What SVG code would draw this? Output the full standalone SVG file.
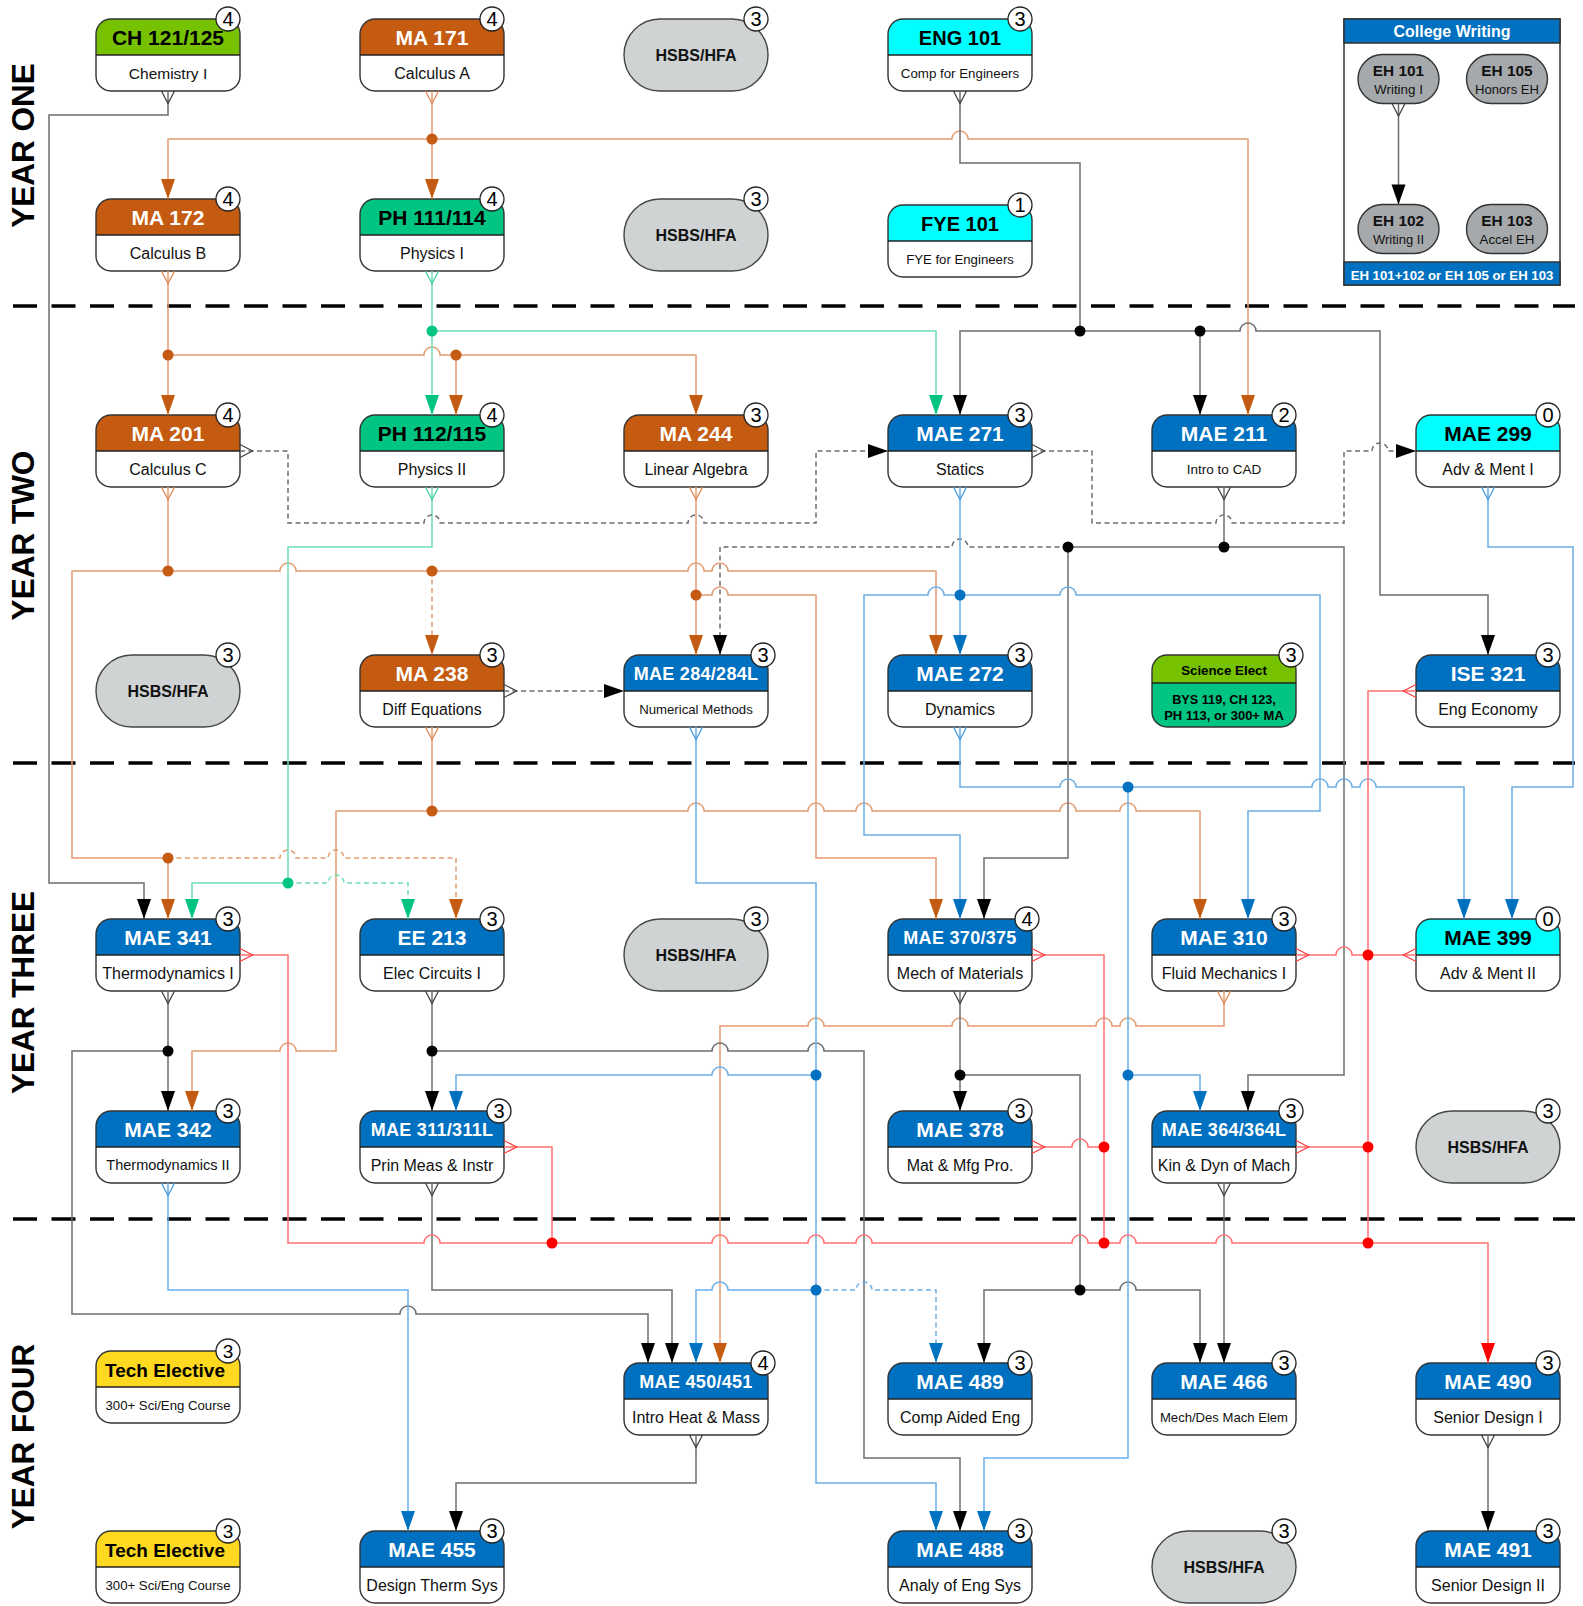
<svg xmlns="http://www.w3.org/2000/svg" width="1583" height="1606" viewBox="0 0 1583 1606">
<defs>
<style>
text{font-family:"Liberation Sans",Arial,sans-serif}
.fr{fill:#fff;stroke:none}
.ol{fill:none;stroke:#333;stroke-width:1.4}
.sp{fill:none;stroke:#222;stroke-width:1.6}
.h{font-weight:bold;font-size:21px;text-anchor:middle}
.hs{font-weight:bold;font-size:18px;text-anchor:middle;letter-spacing:0.3px}
.w{fill:#fff}
.k{fill:#000}
.b{font-size:16px;text-anchor:middle;fill:#111}
.bd{fill:#fff;stroke:#222;stroke-width:1.3}
.bn{font-size:20px;text-anchor:middle;fill:#000}
.gen{fill:#D0D3D4;stroke:#444;stroke-width:1.4}
.gt{font-weight:bold;font-size:16px;text-anchor:middle;fill:#111}
.div{fill:none;stroke:#000;stroke-width:3.3;stroke-dasharray:24 14.5}
.c{fill:none;stroke-width:1.5}
.or{stroke:#E39B71}.gr{stroke:#6EDDB3}.bk{stroke:#6E6E6E}.bl{stroke:#6AAEE6}.rd{stroke:#FF7070}
.ds{stroke-dasharray:5 3.5}
.or.s{marker-start:url(#c-or)}.or.e{marker-end:url(#a-or)}
.gr.s{marker-start:url(#c-gr)}.gr.e{marker-end:url(#a-gr)}
.bk.s{marker-start:url(#c-bk)}.bk.e{marker-end:url(#a-bk)}
.bl.s{marker-start:url(#c-bl)}.bl.e{marker-end:url(#a-bl)}
.rd.s{marker-start:url(#c-rd)}.rd.e{marker-end:url(#a-rd)}
.dor{fill:#C55A11}.dgr{fill:#00C481}.dbk{fill:#000}.dbl{fill:#0070C0}.drd{fill:#FF0000}
.eh{fill:#A6A9AB;stroke:#333;stroke-width:1.4}
.ehb{font-weight:bold;font-size:15.4px;text-anchor:middle;fill:#111}
.ehs{font-size:13.4px;text-anchor:middle;fill:#111}
.yr{font-weight:bold;font-size:31.5px;text-anchor:middle;fill:#000}
</style>
<rect id="box" width="144" height="72" rx="15"/>
<path id="hdr" d="M0,36V15A15,15 0 0 1 15,0H129A15,15 0 0 1 144,15V36Z"/>
<path id="hdr2" d="M0,28V15A15,15 0 0 1 15,0H129A15,15 0 0 1 144,15V28Z"/>
<rect id="pill" width="144" height="72" rx="36"/>
<marker id="a-or" viewBox="-21 -8 22 16" refX="0" refY="0" markerWidth="22" markerHeight="16" markerUnits="userSpaceOnUse" orient="auto"><path d="M-20,-7L0,0L-20,7Z" fill="#C55A11"/></marker>
<marker id="a-gr" viewBox="-21 -8 22 16" refX="0" refY="0" markerWidth="22" markerHeight="16" markerUnits="userSpaceOnUse" orient="auto"><path d="M-20,-7L0,0L-20,7Z" fill="#00C481"/></marker>
<marker id="a-bk" viewBox="-21 -8 22 16" refX="0" refY="0" markerWidth="22" markerHeight="16" markerUnits="userSpaceOnUse" orient="auto"><path d="M-20,-7L0,0L-20,7Z" fill="#000"/></marker>
<marker id="a-bl" viewBox="-21 -8 22 16" refX="0" refY="0" markerWidth="22" markerHeight="16" markerUnits="userSpaceOnUse" orient="auto"><path d="M-20,-7L0,0L-20,7Z" fill="#0070C0"/></marker>
<marker id="a-rd" viewBox="-21 -8 22 16" refX="0" refY="0" markerWidth="22" markerHeight="16" markerUnits="userSpaceOnUse" orient="auto"><path d="M-20,-7L0,0L-20,7Z" fill="#FF0000"/></marker>
<marker id="c-or" viewBox="-2 -8 16 16" refX="0" refY="0" markerWidth="16" markerHeight="16" markerUnits="userSpaceOnUse" orient="auto"><path d="M0,-6.5L12.5,0L0,6.5" fill="none" stroke="#E08A5A" stroke-width="1.3"/></marker>
<marker id="c-gr" viewBox="-2 -8 16 16" refX="0" refY="0" markerWidth="16" markerHeight="16" markerUnits="userSpaceOnUse" orient="auto"><path d="M0,-6.5L12.5,0L0,6.5" fill="none" stroke="#3FD49C" stroke-width="1.3"/></marker>
<marker id="c-bk" viewBox="-2 -8 16 16" refX="0" refY="0" markerWidth="16" markerHeight="16" markerUnits="userSpaceOnUse" orient="auto"><path d="M0,-6.5L12.5,0L0,6.5" fill="none" stroke="#444" stroke-width="1.3"/></marker>
<marker id="c-bl" viewBox="-2 -8 16 16" refX="0" refY="0" markerWidth="16" markerHeight="16" markerUnits="userSpaceOnUse" orient="auto"><path d="M0,-6.5L12.5,0L0,6.5" fill="none" stroke="#4C9BDD" stroke-width="1.3"/></marker>
<marker id="c-rd" viewBox="-2 -8 16 16" refX="0" refY="0" markerWidth="16" markerHeight="16" markerUnits="userSpaceOnUse" orient="auto"><path d="M0,-6.5L12.5,0L0,6.5" fill="none" stroke="#FF4040" stroke-width="1.3"/></marker>
</defs>
<rect width="1583" height="1606" fill="#fff"/>

<g id="year-labels">
<text class="yr" transform="translate(33.5,145.5) rotate(-90)">YEAR ONE</text>
<text class="yr" transform="translate(33.5,535.5) rotate(-90)">YEAR TWO</text>
<text class="yr" transform="translate(33.5,992.5) rotate(-90)">YEAR THREE</text>
<text class="yr" transform="translate(33.5,1436.5) rotate(-90)">YEAR FOUR</text>
</g>
<path class="div" d="M13,306H1575M13,763H1575M13,1219H1575"/>

<g id="nodes">
<g id="ch121" transform="translate(96,19)"><use href="#box" class="fr"/><use href="#hdr" fill="#76C200"/><use href="#box" class="ol"/><path d="M0,36H144" class="sp"/><text x="72" y="25.5" class="h k">CH 121/125</text><text x="72" y="59.5" class="b" style="font-size:15.5px">Chemistry I</text><circle cx="132" cy="0" r="12" class="bd"/><text x="132" y="7" class="bn">4</text></g>
<g id="ma171" transform="translate(360,19)"><use href="#box" class="fr"/><use href="#hdr" fill="#C55A11"/><use href="#box" class="ol"/><path d="M0,36H144" class="sp"/><text x="72" y="25.5" class="h w">MA 171</text><text x="72" y="59.5" class="b">Calculus A</text><circle cx="132" cy="0" r="12" class="bd"/><text x="132" y="7" class="bn">4</text></g>
<g id="hsbs1" transform="translate(624,19)"><use href="#pill" class="gen"/><text x="72" y="41.8" class="gt">HSBS/HFA</text><circle cx="132" cy="0" r="12" class="bd"/><text x="132" y="7" class="bn">3</text></g>
<g id="eng101" transform="translate(888,19)"><use href="#box" class="fr"/><use href="#hdr" fill="#00FFFF"/><use href="#box" class="ol"/><path d="M0,36H144" class="sp"/><text x="72" y="25.5" class="h k" style="font-size:20px">ENG 101</text><text x="72" y="59" class="b" style="font-size:13.3px">Comp for Engineers</text><circle cx="132" cy="0" r="12" class="bd"/><text x="132" y="7" class="bn">3</text></g>

<g id="ma172" transform="translate(96,199)"><use href="#box" class="fr"/><use href="#hdr" fill="#C55A11"/><use href="#box" class="ol"/><path d="M0,36H144" class="sp"/><text x="72" y="25.5" class="h w">MA 172</text><text x="72" y="59.5" class="b">Calculus B</text><circle cx="132" cy="0" r="12" class="bd"/><text x="132" y="7" class="bn">4</text></g>
<g id="ph111" transform="translate(360,199)"><use href="#box" class="fr"/><use href="#hdr" fill="#00C481"/><use href="#box" class="ol"/><path d="M0,36H144" class="sp"/><text x="72" y="25.5" class="h k">PH 111/114</text><text x="72" y="59.5" class="b">Physics I</text><circle cx="132" cy="0" r="12" class="bd"/><text x="132" y="7" class="bn">4</text></g>
<g id="hsbs2" transform="translate(624,199)"><use href="#pill" class="gen"/><text x="72" y="41.8" class="gt">HSBS/HFA</text><circle cx="132" cy="0" r="12" class="bd"/><text x="132" y="7" class="bn">3</text></g>
<g id="fye101" transform="translate(888,205)"><use href="#box" class="fr"/><use href="#hdr" fill="#00FFFF"/><use href="#box" class="ol"/><path d="M0,36H144" class="sp"/><text x="72" y="25.5" class="h k" style="font-size:20px">FYE 101</text><text x="72" y="59" class="b" style="font-size:13.2px">FYE for Engineers</text><circle cx="132" cy="0" r="12" class="bd"/><text x="132" y="7" class="bn">1</text></g>

<g id="ma201" transform="translate(96,415)"><use href="#box" class="fr"/><use href="#hdr" fill="#C55A11"/><use href="#box" class="ol"/><path d="M0,36H144" class="sp"/><text x="72" y="25.5" class="h w">MA 201</text><text x="72" y="59.5" class="b">Calculus C</text><circle cx="132" cy="0" r="12" class="bd"/><text x="132" y="7" class="bn">4</text></g>
<g id="ph112" transform="translate(360,415)"><use href="#box" class="fr"/><use href="#hdr" fill="#00C481"/><use href="#box" class="ol"/><path d="M0,36H144" class="sp"/><text x="72" y="25.5" class="h k">PH 112/115</text><text x="72" y="59.5" class="b">Physics II</text><circle cx="132" cy="0" r="12" class="bd"/><text x="132" y="7" class="bn">4</text></g>
<g id="ma244" transform="translate(624,415)"><use href="#box" class="fr"/><use href="#hdr" fill="#C55A11"/><use href="#box" class="ol"/><path d="M0,36H144" class="sp"/><text x="72" y="25.5" class="h w">MA 244</text><text x="72" y="59.5" class="b">Linear Algebra</text><circle cx="132" cy="0" r="12" class="bd"/><text x="132" y="7" class="bn">3</text></g>
<g id="mae271" transform="translate(888,415)"><use href="#box" class="fr"/><use href="#hdr" fill="#0070C0"/><use href="#box" class="ol"/><path d="M0,36H144" class="sp"/><text x="72" y="25.5" class="h w">MAE 271</text><text x="72" y="59.5" class="b">Statics</text><circle cx="132" cy="0" r="12" class="bd"/><text x="132" y="7" class="bn">3</text></g>
<g id="mae211" transform="translate(1152,415)"><use href="#box" class="fr"/><use href="#hdr" fill="#0070C0"/><use href="#box" class="ol"/><path d="M0,36H144" class="sp"/><text x="72" y="25.5" class="h w">MAE 211</text><text x="72" y="59" class="b" style="font-size:13.5px">Intro to CAD</text><circle cx="132" cy="0" r="12" class="bd"/><text x="132" y="7" class="bn">2</text></g>
<g id="mae299" transform="translate(1416,415)"><use href="#box" class="fr"/><use href="#hdr" fill="#00FFFF"/><use href="#box" class="ol"/><path d="M0,36H144" class="sp"/><text x="72" y="25.5" class="h k">MAE 299</text><text x="72" y="59.5" class="b">Adv &amp; Ment I</text><circle cx="132" cy="0" r="12" class="bd"/><text x="132" y="7" class="bn">0</text></g>

<g id="hsbs3" transform="translate(96,655)"><use href="#pill" class="gen"/><text x="72" y="41.8" class="gt">HSBS/HFA</text><circle cx="132" cy="0" r="12" class="bd"/><text x="132" y="7" class="bn">3</text></g>
<g id="ma238" transform="translate(360,655)"><use href="#box" class="fr"/><use href="#hdr" fill="#C55A11"/><use href="#box" class="ol"/><path d="M0,36H144" class="sp"/><text x="72" y="25.5" class="h w">MA 238</text><text x="72" y="59.5" class="b">Diff Equations</text><circle cx="132" cy="0" r="12" class="bd"/><text x="132" y="7" class="bn">3</text></g>
<g id="mae284" transform="translate(624,655)"><use href="#box" class="fr"/><use href="#hdr" fill="#0070C0"/><use href="#box" class="ol"/><path d="M0,36H144" class="sp"/><text x="72" y="24.5" class="hs w">MAE 284/284L</text><text x="72" y="59" class="b" style="font-size:13.2px">Numerical Methods</text><circle cx="139" cy="0" r="12" class="bd"/><text x="139" y="7" class="bn">3</text></g>
<g id="mae272" transform="translate(888,655)"><use href="#box" class="fr"/><use href="#hdr" fill="#0070C0"/><use href="#box" class="ol"/><path d="M0,36H144" class="sp"/><text x="72" y="25.5" class="h w">MAE 272</text><text x="72" y="59.5" class="b">Dynamics</text><circle cx="132" cy="0" r="12" class="bd"/><text x="132" y="7" class="bn">3</text></g>
<g id="sci-elect" transform="translate(1152,655)"><use href="#box" fill="#00C481"/><use href="#hdr2" fill="#76C200"/><use href="#box" class="ol"/><path d="M0,28H144" class="sp"/><text x="72" y="19.8" style="font-weight:bold;font-size:13.3px;text-anchor:middle" fill="#000">Science Elect</text><text x="72" y="48.7" style="font-weight:bold;font-size:12.7px;text-anchor:middle" fill="#000">BYS 119, CH 123,</text><text x="72" y="64.7" style="font-weight:bold;font-size:13px;text-anchor:middle" fill="#000">PH 113, or 300+ MA</text><circle cx="139" cy="0" r="12" class="bd"/><text x="139" y="7" class="bn">3</text></g>
<g id="ise321" transform="translate(1416,655)"><use href="#box" class="fr"/><use href="#hdr" fill="#0070C0"/><use href="#box" class="ol"/><path d="M0,36H144" class="sp"/><text x="72" y="25.5" class="h w">ISE 321</text><text x="72" y="59.5" class="b">Eng Economy</text><circle cx="132" cy="0" r="12" class="bd"/><text x="132" y="7" class="bn">3</text></g>

<g id="mae341" transform="translate(96,919)"><use href="#box" class="fr"/><use href="#hdr" fill="#0070C0"/><use href="#box" class="ol"/><path d="M0,36H144" class="sp"/><text x="72" y="25.5" class="h w">MAE 341</text><text x="72" y="59.5" class="b">Thermodynamics I</text><circle cx="132" cy="0" r="12" class="bd"/><text x="132" y="7" class="bn">3</text></g>
<g id="ee213" transform="translate(360,919)"><use href="#box" class="fr"/><use href="#hdr" fill="#0070C0"/><use href="#box" class="ol"/><path d="M0,36H144" class="sp"/><text x="72" y="25.5" class="h w">EE 213</text><text x="72" y="59.5" class="b">Elec Circuits I</text><circle cx="132" cy="0" r="12" class="bd"/><text x="132" y="7" class="bn">3</text></g>
<g id="hsbs4" transform="translate(624,919)"><use href="#pill" class="gen"/><text x="72" y="41.8" class="gt">HSBS/HFA</text><circle cx="132" cy="0" r="12" class="bd"/><text x="132" y="7" class="bn">3</text></g>
<g id="mae370" transform="translate(888,919)"><use href="#box" class="fr"/><use href="#hdr" fill="#0070C0"/><use href="#box" class="ol"/><path d="M0,36H144" class="sp"/><text x="72" y="24.5" class="hs w">MAE 370/375</text><text x="72" y="59.5" class="b">Mech of Materials</text><circle cx="139" cy="0" r="12" class="bd"/><text x="139" y="7" class="bn">4</text></g>
<g id="mae310" transform="translate(1152,919)"><use href="#box" class="fr"/><use href="#hdr" fill="#0070C0"/><use href="#box" class="ol"/><path d="M0,36H144" class="sp"/><text x="72" y="25.5" class="h w">MAE 310</text><text x="72" y="59.5" class="b">Fluid Mechanics I</text><circle cx="132" cy="0" r="12" class="bd"/><text x="132" y="7" class="bn">3</text></g>
<g id="mae399" transform="translate(1416,919)"><use href="#box" class="fr"/><use href="#hdr" fill="#00FFFF"/><use href="#box" class="ol"/><path d="M0,36H144" class="sp"/><text x="72" y="25.5" class="h k">MAE 399</text><text x="72" y="59.5" class="b">Adv &amp; Ment II</text><circle cx="132" cy="0" r="12" class="bd"/><text x="132" y="7" class="bn">0</text></g>

<g id="mae342" transform="translate(96,1111)"><use href="#box" class="fr"/><use href="#hdr" fill="#0070C0"/><use href="#box" class="ol"/><path d="M0,36H144" class="sp"/><text x="72" y="25.5" class="h w">MAE 342</text><text x="72" y="59" class="b" style="font-size:14.5px">Thermodynamics II</text><circle cx="132" cy="0" r="12" class="bd"/><text x="132" y="7" class="bn">3</text></g>
<g id="mae311" transform="translate(360,1111)"><use href="#box" class="fr"/><use href="#hdr" fill="#0070C0"/><use href="#box" class="ol"/><path d="M0,36H144" class="sp"/><text x="72" y="24.5" class="hs w">MAE 311/311L</text><text x="72" y="59.5" class="b">Prin Meas &amp; Instr</text><circle cx="139" cy="0" r="12" class="bd"/><text x="139" y="7" class="bn">3</text></g>
<g id="mae378" transform="translate(888,1111)"><use href="#box" class="fr"/><use href="#hdr" fill="#0070C0"/><use href="#box" class="ol"/><path d="M0,36H144" class="sp"/><text x="72" y="25.5" class="h w">MAE 378</text><text x="72" y="59.5" class="b">Mat &amp; Mfg Pro.</text><circle cx="132" cy="0" r="12" class="bd"/><text x="132" y="7" class="bn">3</text></g>
<g id="mae364" transform="translate(1152,1111)"><use href="#box" class="fr"/><use href="#hdr" fill="#0070C0"/><use href="#box" class="ol"/><path d="M0,36H144" class="sp"/><text x="72" y="24.5" class="hs w">MAE 364/364L</text><text x="72" y="59.5" class="b">Kin &amp; Dyn of Mach</text><circle cx="139" cy="0" r="12" class="bd"/><text x="139" y="7" class="bn">3</text></g>
<g id="hsbs5" transform="translate(1416,1111)"><use href="#pill" class="gen"/><text x="72" y="41.8" class="gt">HSBS/HFA</text><circle cx="132" cy="0" r="12" class="bd"/><text x="132" y="7" class="bn">3</text></g>

<g id="tech1" transform="translate(96,1351)"><use href="#box" class="fr"/><use href="#hdr" fill="#FFD820"/><use href="#box" class="ol"/><path d="M0,36H144" class="sp"/><text x="69" y="26" class="h k" style="font-size:19px">Tech Elective</text><text x="72" y="59" class="b" style="font-size:13px" textLength="125" lengthAdjust="spacingAndGlyphs">300+ Sci/Eng Course</text><circle cx="132" cy="0" r="12" class="bd"/><text x="132" y="6.5" class="bn" style="font-size:19px">3</text></g>
<g id="mae450" transform="translate(624,1363)"><use href="#box" class="fr"/><use href="#hdr" fill="#0070C0"/><use href="#box" class="ol"/><path d="M0,36H144" class="sp"/><text x="72" y="24.5" class="hs w">MAE 450/451</text><text x="72" y="59.5" class="b">Intro Heat &amp; Mass</text><circle cx="139" cy="0" r="12" class="bd"/><text x="139" y="7" class="bn">4</text></g>
<g id="mae489" transform="translate(888,1363)"><use href="#box" class="fr"/><use href="#hdr" fill="#0070C0"/><use href="#box" class="ol"/><path d="M0,36H144" class="sp"/><text x="72" y="25.5" class="h w">MAE 489</text><text x="72" y="59.5" class="b">Comp Aided Eng</text><circle cx="132" cy="0" r="12" class="bd"/><text x="132" y="7" class="bn">3</text></g>
<g id="mae466" transform="translate(1152,1363)"><use href="#box" class="fr"/><use href="#hdr" fill="#0070C0"/><use href="#box" class="ol"/><path d="M0,36H144" class="sp"/><text x="72" y="25.5" class="h w">MAE 466</text><text x="72" y="59" class="b" style="font-size:13.1px">Mech/Des Mach Elem</text><circle cx="132" cy="0" r="12" class="bd"/><text x="132" y="7" class="bn">3</text></g>
<g id="mae490" transform="translate(1416,1363)"><use href="#box" class="fr"/><use href="#hdr" fill="#0070C0"/><use href="#box" class="ol"/><path d="M0,36H144" class="sp"/><text x="72" y="25.5" class="h w">MAE 490</text><text x="72" y="59.5" class="b">Senior Design I</text><circle cx="132" cy="0" r="12" class="bd"/><text x="132" y="7" class="bn">3</text></g>

<g id="tech2" transform="translate(96,1531)"><use href="#box" class="fr"/><use href="#hdr" fill="#FFD820"/><use href="#box" class="ol"/><path d="M0,36H144" class="sp"/><text x="69" y="26" class="h k" style="font-size:19px">Tech Elective</text><text x="72" y="59" class="b" style="font-size:13px" textLength="125" lengthAdjust="spacingAndGlyphs">300+ Sci/Eng Course</text><circle cx="132" cy="0" r="12" class="bd"/><text x="132" y="6.5" class="bn" style="font-size:19px">3</text></g>
<g id="mae455" transform="translate(360,1531)"><use href="#box" class="fr"/><use href="#hdr" fill="#0070C0"/><use href="#box" class="ol"/><path d="M0,36H144" class="sp"/><text x="72" y="25.5" class="h w">MAE 455</text><text x="72" y="59.5" class="b">Design Therm Sys</text><circle cx="132" cy="0" r="12" class="bd"/><text x="132" y="7" class="bn">3</text></g>
<g id="mae488" transform="translate(888,1531)"><use href="#box" class="fr"/><use href="#hdr" fill="#0070C0"/><use href="#box" class="ol"/><path d="M0,36H144" class="sp"/><text x="72" y="25.5" class="h w">MAE 488</text><text x="72" y="59.5" class="b">Analy of Eng Sys</text><circle cx="132" cy="0" r="12" class="bd"/><text x="132" y="7" class="bn">3</text></g>
<g id="hsbs6" transform="translate(1152,1531)"><use href="#pill" class="gen"/><text x="72" y="41.8" class="gt">HSBS/HFA</text><circle cx="132" cy="0" r="12" class="bd"/><text x="132" y="7" class="bn">3</text></g>
<g id="mae491" transform="translate(1416,1531)"><use href="#box" class="fr"/><use href="#hdr" fill="#0070C0"/><use href="#box" class="ol"/><path d="M0,36H144" class="sp"/><text x="72" y="25.5" class="h w">MAE 491</text><text x="72" y="59.5" class="b">Senior Design II</text><circle cx="132" cy="0" r="12" class="bd"/><text x="132" y="7" class="bn">3</text></g>

<g id="college-writing">
<rect x="1344" y="19" width="216" height="266" fill="#fff" stroke="#333" stroke-width="1.5"/>
<rect x="1344" y="19" width="216" height="24" fill="#0070C0" stroke="#333" stroke-width="1.5"/>
<rect x="1344" y="262" width="216" height="23" fill="#0070C0" stroke="#333" stroke-width="1.5"/>
<text x="1452" y="36.5" style="font-weight:bold;font-size:16px;text-anchor:middle" fill="#fff">College Writing</text>
<text x="1452" y="279.5" style="font-weight:bold;font-size:13.2px;text-anchor:middle" fill="#fff">EH 101+102 or EH 105 or EH 103</text>
</g>
<g id="eh101"><rect x="1358" y="54.5" width="81" height="49" rx="24.5" class="eh"/><text x="1398.5" y="75.5" class="ehb">EH 101</text><text x="1398.5" y="94" class="ehs">Writing I</text></g>
<g id="eh105"><rect x="1466.5" y="54.5" width="81" height="49" rx="24.5" class="eh"/><text x="1507" y="75.5" class="ehb">EH 105</text><text x="1507" y="94" class="ehs" style="font-size:13.1px">Honors EH</text></g>
<g id="eh102"><rect x="1358" y="204.5" width="81" height="49" rx="24.5" class="eh"/><text x="1398.5" y="225.5" class="ehb">EH 102</text><text x="1398.5" y="244" class="ehs" style="font-size:13px">Writing II</text></g>
<g id="eh103"><rect x="1466.5" y="204.5" width="81" height="49" rx="24.5" class="eh"/><text x="1507" y="225.5" class="ehb">EH 103</text><text x="1507" y="244" class="ehs">Accel EH</text></g>
</g>

<g id="connectors">
<path class="c bk s e" d="M1398.5,103.5V204.5"/>
<!-- orange -->
<path class="c or s" d="M432,91V139"/>
<path class="c or e" d="M432,139V199"/>
<path class="c or e" d="M432,139H168V199"/>
<path class="c or e" d="M432,139H952a8,8 0 0 1 16,0H1248V415"/>
<path class="c or s" d="M168,271V355"/>
<path class="c or e" d="M168,355V415"/>
<path class="c or e" d="M168,355H424a8,8 0 0 1 16,0H696V415"/>
<path class="c or e" d="M456,355V415"/>
<path class="c or s" d="M168,487V571"/>
<path class="c or e" d="M168,571H72V858H168V919"/>
<path class="c or e ds" d="M168,858H280a8,8 0 0 1 16,0H328a8,8 0 0 1 16,0H456V919"/>
<path class="c or e" d="M168,571H280a8,8 0 0 1 16,0H688a8,8 0 0 1 16,0H712a8,8 0 0 1 16,0H936V655"/>
<path class="c or e ds" d="M432,571V655"/>
<path class="c or s e" d="M696,487V655"/>
<path class="c or e" d="M696,595H712a8,8 0 0 1 16,0H816V858H936V919"/>
<path class="c or s" d="M432,727V811"/>
<path class="c or e" d="M432,811H336V1051H296a8,8 0 0 0 -16,0H192V1111"/>
<path class="c or e" d="M432,811H688a8,8 0 0 1 16,0H808a8,8 0 0 1 16,0H856a8,8 0 0 1 16,0H1060a8,8 0 0 1 16,0H1120a8,8 0 0 1 16,0H1200V919"/>
<path class="c or s e" d="M1224,991V1026H1136a8,8 0 0 0 -16,0H1112a8,8 0 0 0 -16,0H968a8,8 0 0 0 -16,0H824a8,8 0 0 0 -16,0H720V1363"/>
<!-- green -->
<path class="c gr s e" d="M432,271V415"/>
<path class="c gr e" d="M432,331H936V415"/>
<path class="c gr s" d="M432,487V547H288V883"/>
<path class="c gr e" d="M288,883H192V919"/>
<path class="c gr e ds" d="M288,883H328a8,8 0 0 1 16,0H408V919"/>
<!-- black -->
<path class="c bk s e" d="M168,91V115H49V883H144V919"/>
<path class="c bk s" d="M960,91V163H1080V331"/>
<path class="c bk e" d="M1080,331H960V415"/>
<path class="c bk e" d="M1080,331H1240a8,8 0 0 1 16,0H1380V595H1488V655"/>
<path class="c bk e" d="M1200,331V415"/>
<path class="c bk s" d="M1224,487V547"/>
<path class="c bk e" d="M1224,547H1068V858H984V919"/>
<path class="c bk e" d="M1224,547H1344V1075H1248V1111"/>
<path class="c bk e ds" d="M1068,547H968a8,8 0 0 0 -16,0H720V655"/>
<path class="c bk s e" d="M168,991V1111"/>
<path class="c bk e" d="M168,1051H72V1314H400a8,8 0 0 1 16,0H648V1363"/>
<path class="c bk s e" d="M432,991V1111"/>
<path class="c bk e" d="M432,1051H712a8,8 0 0 1 16,0H808a8,8 0 0 1 16,0H864V1458H960V1531"/>
<path class="c bk s e" d="M432,1183V1290H672V1363"/>
<path class="c bk s e" d="M960,991V1111"/>
<path class="c bk e" d="M960,1075H1080V1290H984V1363"/>
<path class="c bk e" d="M1080,1290H1120a8,8 0 0 1 16,0H1200V1363"/>
<path class="c bk s e" d="M1224,1183V1363"/>
<path class="c bk s e" d="M696,1435V1483H456V1531"/>
<path class="c bk s e" d="M1488,1435V1531"/>
<!-- dashed gray -->
<path class="c bk s e ds" d="M240,451H288V523H424a8,8 0 0 1 16,0H688a8,8 0 0 1 16,0H816V451H888"/>
<path class="c bk s e ds" d="M504,691H624"/>
<path class="c bk s e ds" d="M1032,451H1092V523H1216a8,8 0 0 1 16,0H1344V451H1372a8,8 0 0 1 16,0H1416"/>
<!-- blue -->
<path class="c bl s e" d="M960,487V655"/>
<path class="c bl e" d="M960,595H944a8,8 0 0 0 -16,0H864V835H960V919"/>
<path class="c bl e" d="M960,595H1060a8,8 0 0 1 16,0H1320V811H1248V919"/>
<path class="c bl s e" d="M960,727V787H1060a8,8 0 0 1 16,0H1312a8,8 0 0 1 16,0H1336a8,8 0 0 1 16,0H1360a8,8 0 0 1 16,0H1464V919"/>
<path class="c bl e" d="M1128,787V1075H1200V1111"/>
<path class="c bl e" d="M1128,1075V1458H984V1531"/>
<path class="c bl s e" d="M696,727V883H816V1483H936V1531"/>
<path class="c bl e" d="M816,1075H728a8,8 0 0 0 -16,0H456V1111"/>
<path class="c bl e" d="M816,1290H728a8,8 0 0 0 -16,0H696V1363"/>
<path class="c bl e ds" d="M816,1290H856a8,8 0 0 1 16,0H936V1363"/>
<path class="c bl s e" d="M1488,487V547H1573V787H1512V919"/>
<path class="c bl s e" d="M168,1183V1290H408V1531"/>
<!-- red -->
<path class="c rd s e" d="M240,955H288V1243H424a8,8 0 0 1 16,0H712a8,8 0 0 1 16,0H808a8,8 0 0 1 16,0H856a8,8 0 0 1 16,0H1072a8,8 0 0 1 16,0H1120a8,8 0 0 1 16,0H1216a8,8 0 0 1 16,0H1488V1363"/>
<path class="c rd s" d="M504,1147H552V1243"/>
<path class="c rd s" d="M1032,955H1104V1243"/>
<path class="c rd s" d="M1032,1147H1072a8,8 0 0 1 16,0H1104"/>
<path class="c rd s" d="M1296,955H1336a8,8 0 0 1 16,0H1368"/>
<path class="c rd s" d="M1416,955H1368"/>
<path class="c rd s" d="M1296,1147H1368"/>
<path class="c rd s" d="M1416,691H1368V1243"/>
<!-- junction dots -->
<g class="dor"><circle cx="432" cy="139" r="5.5"/><circle cx="168" cy="355" r="5.5"/><circle cx="456" cy="355" r="5.5"/><circle cx="168" cy="571" r="5.5"/><circle cx="432" cy="571" r="5.5"/><circle cx="696" cy="595" r="5.5"/><circle cx="168" cy="858" r="5.5"/><circle cx="432" cy="811" r="5.5"/></g>
<g class="dgr"><circle cx="432" cy="331" r="5.5"/><circle cx="288" cy="883" r="5.5"/></g>
<g class="dbk"><circle cx="1080" cy="331" r="5.5"/><circle cx="1200" cy="331" r="5.5"/><circle cx="1224" cy="547" r="5.5"/><circle cx="1068" cy="547" r="5.5"/><circle cx="168" cy="1051" r="5.5"/><circle cx="432" cy="1051" r="5.5"/><circle cx="960" cy="1075" r="5.5"/><circle cx="1080" cy="1290" r="5.5"/></g>
<g class="dbl"><circle cx="960" cy="595" r="5.5"/><circle cx="1128" cy="787" r="5.5"/><circle cx="1128" cy="1075" r="5.5"/><circle cx="816" cy="1075" r="5.5"/><circle cx="816" cy="1290" r="5.5"/></g>
<g class="drd"><circle cx="552" cy="1243" r="5.5"/><circle cx="1104" cy="1147" r="5.5"/><circle cx="1104" cy="1243" r="5.5"/><circle cx="1368" cy="955" r="5.5"/><circle cx="1368" cy="1147" r="5.5"/><circle cx="1368" cy="1243" r="5.5"/></g>
</g>
</svg>
